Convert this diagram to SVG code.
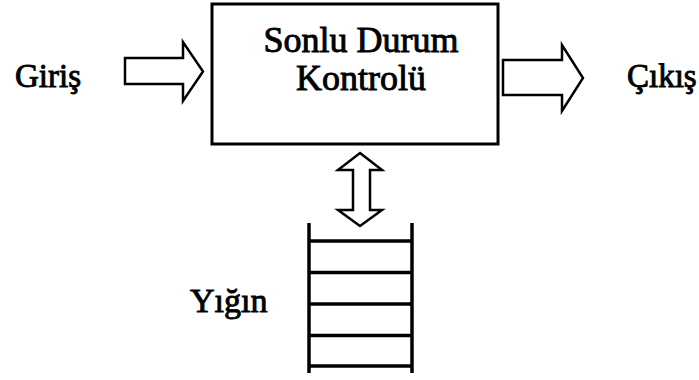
<svg xmlns="http://www.w3.org/2000/svg" width="699" height="380" viewBox="0 0 699 380">
  <style>
    .lbl { font-family: "Liberation Serif", "Times New Roman", serif; fill: #000; stroke: #000; stroke-width: 0.9; }
    .box { fill: #fff; stroke: #000; stroke-width: 3; }
    .arrow { fill: #fff; stroke: #000; stroke-width: 2.5; stroke-linejoin: miter; }
    .stack { stroke: #000; stroke-width: 3.5; fill: none; }
  </style>
  <rect width="699" height="380" fill="#fff"/>

  <!-- finite state control -->
  <g id="control">
    <rect class="box" x="212" y="4" width="286" height="140"/>
    <text class="lbl" x="361" y="52" font-size="36" text-anchor="middle">Sonlu Durum</text>
    <text class="lbl" x="361" y="90" font-size="36" text-anchor="middle">Kontrolü</text>
  </g>

  <g id="input">
    <text class="lbl" x="15" y="87" font-size="33">Giriş</text>
  </g>

  <g id="output">
    <text class="lbl" x="627" y="87" font-size="33">Çıkış</text>
  </g>

  <!-- stack -->
  <g id="stack">
    <line class="stack" x1="309" y1="223" x2="309" y2="373"/>
    <line class="stack" x1="412" y1="223" x2="412" y2="373"/>
    <line class="stack" x1="309" y1="241" x2="412" y2="241"/>
    <line class="stack" x1="309" y1="272.5" x2="412" y2="272.5"/>
    <line class="stack" x1="309" y1="304" x2="412" y2="304"/>
    <line class="stack" x1="309" y1="335.5" x2="412" y2="335.5"/>
    <line class="stack" x1="309" y1="366" x2="412" y2="366"/>
    <text class="lbl" x="190" y="312" font-size="34">Yığın</text>
  </g>

  <!-- connectors: block arrows -->
  <g id="connectors">
    <polygon class="arrow" points="125,58 183,58 183,42 203,71.5 183,101 183,84 125,84"/>
    <polygon class="arrow" points="503,60 562,60 562,45 583,78 562,111 562,95 503,95"/>
    <polygon class="arrow" points="360,153 382,170 370,170 370,210 382,210 360,226 338,210 353,210 353,170 338,170"/>
  </g>
</svg>
